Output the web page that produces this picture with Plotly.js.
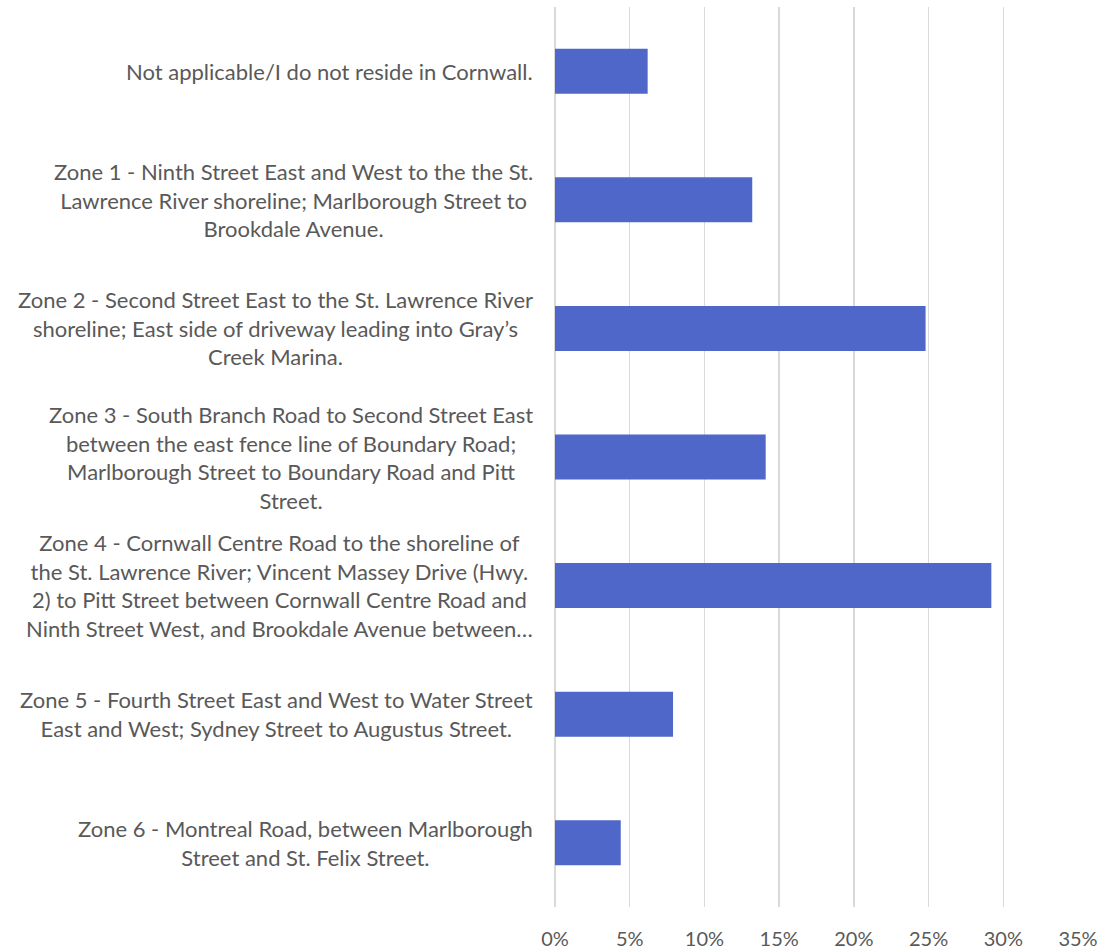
<!DOCTYPE html>
<html>
<head>
<meta charset="utf-8">
<script src="https://cdn.plot.ly/plotly-3.0.1.min.js"></script>
<style>html,body{margin:0;padding:0;background:#fff;}#chart{width:1118px;height:950px;}</style>
</head>
<body>
<div id="chart"></div>
<script>
var categories = [
  "Not applicable/I do not reside in Cornwall.",
  "Zone 1 - Ninth Street East and West to the the St.<br>Lawrence River shoreline; Marlborough Street to<br>Brookdale Avenue.",
  "Zone 2 - Second Street East to the St. Lawrence River<br>shoreline; East side of driveway leading into Gray\u2019s<br>Creek Marina.",
  "Zone 3 - South Branch Road to Second Street East<br>between the east fence line of Boundary Road;<br>Marlborough Street to Boundary Road and Pitt<br>Street.",
  "Zone 4 - Cornwall Centre Road to the shoreline of<br>the St. Lawrence River; Vincent Massey Drive (Hwy.<br>2) to Pitt Street between Cornwall Centre Road and<br>Ninth Street West, and Brookdale Avenue between\u2026",
  "Zone 5 - Fourth Street East and West to Water Street<br>East and West; Sydney Street to Augustus Street.",
  "Zone 6 - Montreal Road, between Marlborough<br>Street and St. Felix Street."
];
var values = [0.062, 0.132, 0.248, 0.141, 0.292, 0.079, 0.044];
var xTickVals = [0, 0.05, 0.10, 0.15, 0.20, 0.25, 0.30, 0.35];
var xTickText = ["0%", "5%", "10%", "15%", "20%", "25%", "30%", "35%"];

var textColor = "#595959";
var fontFamily = "Lato, 'Open Sans', sans-serif";

var annotations = categories.map(function (c, i) {
  return {
    xref: "paper", yref: "y",
    x: 0, y: i,
    xanchor: "right", yanchor: "middle",
    xshift: -20,
    align: "center",
    showarrow: false,
    text: c,
    font: {family: fontFamily, size: 22, color: textColor}
  };
});

var trace = {
  type: "bar",
  orientation: "h",
  x: values,
  y: categories.map(function (c, i) { return i; }),
  marker: {color: "#4F67C8"},
  hoverinfo: "x"
};

var layout = {
  width: 1118, height: 950,
  margin: {l: 555, r: 40, t: 7, b: 43},
  paper_bgcolor: "#ffffff",
  plot_bgcolor: "#ffffff",
  bargap: 0.65,
  showlegend: false,
  font: {family: fontFamily, color: textColor},
  xaxis: {
    range: [0, 0.35],
    tickvals: xTickVals,
    ticktext: xTickText,
    showgrid: true,
    gridcolor: "#D9D9D9",
    gridwidth: 1.5,
    zeroline: true,
    zerolinecolor: "#D9D9D9",
    zerolinewidth: 1.5,
    showline: false,
    ticks: "",
    ticklabelstandoff: 18,
    tickfont: {family: fontFamily, size: 20, color: textColor},
    fixedrange: true
  },
  yaxis: {
    type: "linear",
    range: [6.5, -0.5],
    showticklabels: false,
    showgrid: false,
    zeroline: false,
    showline: false,
    ticks: "",
    fixedrange: true
  },
  annotations: annotations
};

Plotly.newPlot("chart", [trace], layout, {displayModeBar: false, staticPlot: true});
</script>
</body>
</html>
